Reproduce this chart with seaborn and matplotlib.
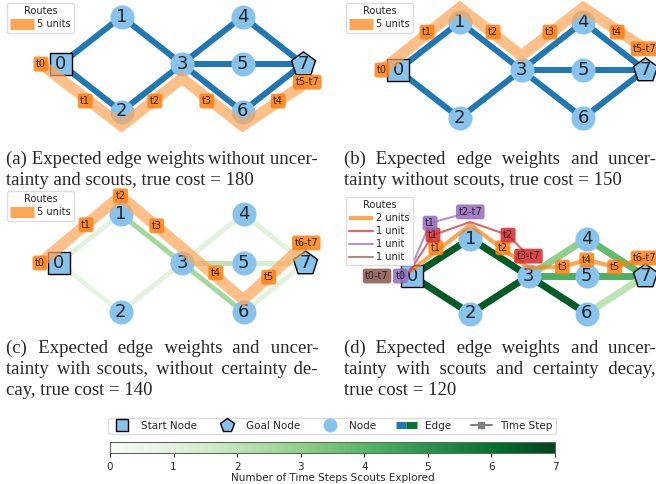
import numpy as np
import seaborn as sns
import matplotlib
matplotlib.use('Agg')
import matplotlib.pyplot as plt
from matplotlib.lines import Line2D
from matplotlib.legend_handler import HandlerTuple
from matplotlib.cm import ScalarMappable
from matplotlib.colors import Normalize

sns.set_style('white')

# graph layout shared by the four panels
node_x = [0, 1, 1, 2, 3, 3, 3, 4]
node_y = [0, 1, -1, 0, 1, 0, -1, 0]
edges = [(0, 1), (0, 2), (1, 3), (2, 3), (3, 4), (3, 5), (3, 6), (4, 7), (5, 7), (6, 7)]

# number of time steps scouts explored each edge (panels c and d)
scout_c = [1.0, 0.8, 2.6, 1.0, 1.0, 2.0, 2.6, 1.0, 1.3, 1.0]
scout_d = [6.5, 6.5, 6.5, 6.5, 3.0, 4.2, 6.5, 3.8, 4.2, 2.0]

# routes (waypoints in graph units)
route_a_x = [-0.33, 1, 2, 3, 4.07]
route_a_y = [0, -1.3, -0.3, -1.3, -0.38]
route_b_x = [-0.26, 1, 2, 3, 4.0]
route_b_y = [0, 1.3, 0.3, 1.3, 0.44]
route_c_x = [-0.31, 1, 3, 4.02]
route_c_y = [0, 1.37, -0.75, 0.41]
route_d_orange_x = [-0.05, 1.0, 2.0, 2.58, 3.0, 3.48, 4.0]
route_d_orange_y = [0.1, 1.36, 0.22, 0.24, 0.43, 0.24, 0.48]
route_d_red_x = [-0.05, 0.36, 1.0, 1.65, 2.0]
route_d_red_y = [0.1, 1.09, 1.44, 1.09, 0.53]
route_d_purple_x = [-0.05, 0.31, 1.0]
route_d_purple_y = [0.1, 1.41, 1.71]

# time step labels (text, x, y)
steps_a = [('t0', -0.33, 0), ('t1', 0.40, -0.78), ('t2', 1.55, -0.78),
           ('t3', 2.41, -0.78), ('t4', 3.59, -0.78), ('t5-t7', 4.07, -0.38)]
steps_b = [('t0', -0.26, 0), ('t1', 0.47, 0.79), ('t2', 1.54, 0.79),
           ('t3', 2.46, 0.79), ('t4', 3.55, 0.79), ('t5-t7', 4.0, 0.44)]
steps_c = [('t0', -0.31, 0), ('t1', 0.44, 0.78), ('t2', 1.0, 1.37), ('t3', 1.59, 0.76),
           ('t4', 2.55, -0.2), ('t5', 3.41, -0.29), ('t6-t7', 4.02, 0.41)]
steps_d_orange = [('t1', 0.41, 0.75), ('t2', 1.56, 0.75), ('t3', 2.58, 0.24),
                  ('t4', 3.0, 0.43), ('t5', 3.48, 0.24), ('t6-t7', 4.0, 0.48)]
steps_d_red = [('t1', 0.36, 1.09), ('t2', 1.65, 1.09), ('t3-t7', 2.0, 0.53)]
steps_d_purple = [('t0', -0.2, 0), ('t1', 0.31, 1.41), ('t2-t7', 1.0, 1.71)]
steps_d_brown = [('t0-t7', -0.6, 0)]

captions = {
    'a': ['(a) Expected edge weights without uncer-', 'tainty and scouts, true cost = 180'],
    'b': ['(b) Expected edge weights and uncer-', 'tainty without scouts, true cost = 150'],
    'c': ['(c) Expected edge weights and uncer-', 'tainty with scouts, without certainty de-',
          'cay, true cost = 140'],
    'd': ['(d) Expected edge weights and uncer-', 'tainty with scouts and certainty decay,',
          'true cost = 120'],
}

node_color = '#88c3ee'
route_color = '#ffa556'
W, H = 656, 484
fig = plt.figure(figsize=(W / 100, H / 100), dpi=100)
greens = plt.get_cmap('Greens')


def make_ax(box, origin, scale):
    L, T, w, h = box
    ox, oy = origin
    sx, sy = scale
    ax = fig.add_axes([L / W, 1 - (T + h) / H, w / W, h / H])
    ax.set_xlim((L - ox) / sx, (L + w - ox) / sx)
    ax.set_ylim((oy - (T + h)) / sy, (oy - T) / sy)
    ax.axis('off')
    return ax


def draw_graph(ax, colors, lw):
    for (i, j), c in zip(edges, colors):
        ax.plot([node_x[i], node_x[j]], [node_y[i], node_y[j]], color=c, lw=lw, zorder=1)
    mid = list(range(1, 7))
    sns.scatterplot(x=[node_x[k] for k in mid], y=[node_y[k] for k in mid], ax=ax,
                    s=300, color=node_color, linewidth=0, zorder=2)
    sns.scatterplot(x=[node_x[0]], y=[node_y[0]], ax=ax, marker='s', s=250,
                    color=node_color, edgecolor='black', linewidth=1, zorder=2)
    sns.scatterplot(x=[node_x[7]], y=[node_y[7]], ax=ax, marker='p', s=330,
                    color=node_color, edgecolor='black', linewidth=1, zorder=2)
    for k in range(8):
        ax.text(node_x[k], node_y[k], str(k), ha='center', va='center', fontsize=13, zorder=3)


def draw_route(ax, xs, ys, color, lw, alpha=0.7):
    sns.lineplot(x=xs, y=ys, sort=False, estimator=None, ax=ax, color=color, lw=lw,
                 alpha=alpha, zorder=4, solid_capstyle='butt', solid_joinstyle='miter')


def draw_steps(ax, steps, color):
    for t, x, y in steps:
        ax.text(x, y, t, fontsize=7, ha='center', va='center', zorder=6, clip_on=False,
                bbox=dict(boxstyle='round,pad=0.25', fc=color, ec='none', alpha=0.85))


def routes_legend(x, y, handles, labels):
    fig.legend(handles, labels, title='Routes', loc='upper left',
               bbox_to_anchor=(x / W, 1 - y / H), fontsize=7, title_fontsize=7,
               handlelength=2.4, borderpad=0.35, labelspacing=0.3, handletextpad=0.3,
               borderaxespad=0, framealpha=1, edgecolor='#dddddd', fancybox=True)


# panel (a)
ax = make_ax((0, 0, 328, 132), (61, 64), (60.5, 47.5))
draw_graph(ax, ['tab:blue'] * len(edges), 4.3)
draw_route(ax, route_a_x, route_a_y, route_color, 8)
draw_steps(ax, steps_a, 'tab:orange')

# panel (b)
ax = make_ax((330, 0, 326, 132), (398, 70), (61.75, 48))
draw_graph(ax, ['tab:blue'] * len(edges), 4.3)
draw_route(ax, route_b_x, route_b_y, route_color, 8)
draw_steps(ax, steps_b, 'tab:orange')

# panel (c)
ax = make_ax((0, 188, 328, 144), (59, 263), (61.5, 49))
draw_graph(ax, [greens(v / 7) for v in scout_c], 3.6)
draw_route(ax, route_c_x, route_c_y, route_color, 8)
draw_steps(ax, steps_c, 'tab:orange')

# panel (d)
ax = make_ax((330, 188, 326, 144), (412, 276), (58.25, 37.5))
draw_graph(ax, [greens(v / 7) for v in scout_d], 5)
draw_route(ax, route_d_orange_x, route_d_orange_y, 'tab:orange', 3)
draw_route(ax, route_d_red_x, route_d_red_y, 'tab:red', 1.5)
draw_route(ax, route_d_purple_x, route_d_purple_y, 'tab:purple', 1.5)
draw_steps(ax, steps_d_brown, 'tab:brown')
draw_steps(ax, steps_d_orange, 'tab:orange')
draw_steps(ax, steps_d_red, 'tab:red')
draw_steps(ax, steps_d_purple, 'tab:purple')

one_route = [Line2D([], [], color=route_color, lw=8, solid_capstyle='butt')]
routes_legend(7, 3, one_route, ['5 units'])
routes_legend(346, 3, one_route, ['5 units'])
routes_legend(7, 191, one_route, ['5 units'])
routes_legend(346, 197,
              [Line2D([], [], color='tab:orange', lw=3, alpha=0.7, solid_capstyle='butt'),
               Line2D([], [], color='tab:red', lw=1.5, alpha=0.7),
               Line2D([], [], color='tab:purple', lw=1.5, alpha=0.7),
               Line2D([], [], color='tab:brown', lw=1.5, alpha=0.7)],
              ['2 units', '1 unit', '1 unit', '1 unit'])

# justified captions: one text per line, word gaps filled with hair spaces
renderer = fig.canvas.get_renderer()
serif = ['Liberation Serif', 'DejaVu Serif']
HAIR = '\u200a'


def text_width(s, size):
    t = fig.text(0, 0, s, fontsize=size, family=serif)
    w = t.get_window_extent(renderer).width
    t.remove()
    return w


def caption(lines, x0, width, y0, step, size=13.5):
    hair = (text_width('a' + HAIR * 10 + 'b', size) - text_width('ab', size)) / 10
    for i, line in enumerate(lines):
        words = line.split(' ')
        if i < len(lines) - 1:
            ink = sum(text_width(w, size) for w in words)
            gap = (width - ink) / (len(words) - 1)
            s = words[0]
            used = text_width(words[0], size)
            for k, w in enumerate(words[1:], 1):
                target = x0 + ink_before(words, k, size) + gap * k
                n = max(1, int(round((target - (x0 + used)) / hair)))
                s += HAIR * n + w
                used = text_width(s, size)
            txt = s
        else:
            txt = line
        fig.text(x0 / W, 1 - (y0 + i * step) / H, txt, fontsize=size, family=serif,
                 va='baseline')


def ink_before(words, k, size):
    return sum(text_width(w, size) for w in words[:k])


caption(captions['a'], 6, 312, 164, 21)
caption(captions['b'], 344, 312, 164, 21)
caption(captions['c'], 6, 312, 353, 21)
caption(captions['d'], 344, 312, 353, 21)

# shared legend
handles = [Line2D([], [], marker='s', ls='', mfc=node_color, mec='black', ms=9),
           Line2D([], [], marker='p', ls='', mfc=node_color, mec='black', ms=10),
           Line2D([], [], marker='o', ls='', mfc=node_color, mec='none', ms=10),
           (Line2D([], [], color='tab:blue', lw=5, solid_capstyle='butt'),
            Line2D([], [], color=greens(0.85), lw=5, solid_capstyle='butt')),
           Line2D([], [], color='gray', marker='s', ms=4, lw=1.5)]
fig.legend(handles, ['Start Node', 'Goal Node', 'Node', 'Edge', 'Time Step'],
           handler_map={tuple: HandlerTuple(ndivide=None, pad=0)},
           loc='center', bbox_to_anchor=(332 / W, 1 - 426 / H), ncol=5, fontsize=7.5,
           columnspacing=1.9, handletextpad=0.8, handlelength=2.0, borderpad=0.3,
           framealpha=1, edgecolor='#dddddd')

# colorbar
cax = fig.add_axes([110 / W, 1 - 453 / H, 445 / W, 11 / H])
cb = fig.colorbar(ScalarMappable(Normalize(0, 7), 'Greens'), cax=cax, orientation='horizontal')
cb.set_ticks(range(8))
cb.ax.tick_params(labelsize=7.5, length=3)
cb.set_label('Number of Time Steps Scouts Explored', fontsize=7.5, labelpad=1)
cb.outline.set_edgecolor('#666666')

fig.savefig('out.png', dpi=100)
